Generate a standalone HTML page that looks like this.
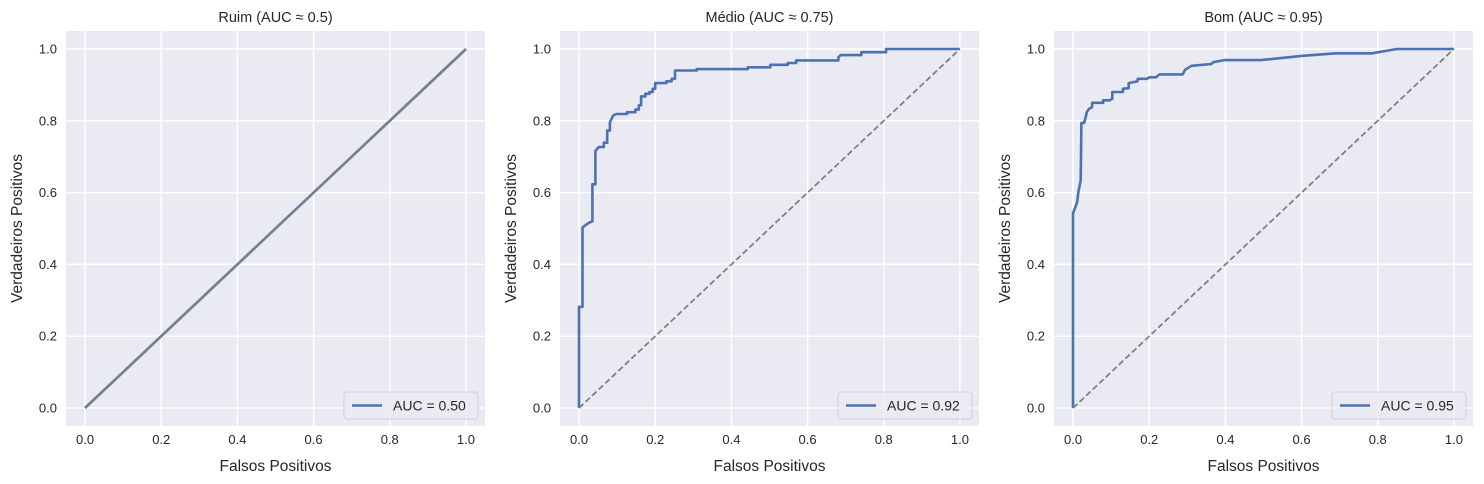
<!DOCTYPE html>
<html><head><meta charset="utf-8">
<style>
html,body{margin:0;padding:0;background:#fff;}
svg{display:block;font-family:"Liberation Sans","DejaVu Sans",sans-serif;}
</style></head>
<body>
<svg id="chart" width="1484" height="484" viewBox="0 0 1484 484" xmlns="http://www.w3.org/2000/svg"></svg>
<script>
const panelTitles = ["Ruim (AUC \u2248 0.5)", "Médio (AUC \u2248 0.75)", "Bom (AUC \u2248 0.95)"];
const legendLabels = ["AUC = 0.50", "AUC = 0.92", "AUC = 0.95"];
const tickValues = [0, 0.2, 0.4, 0.6, 0.8, 1.0];
const tickLabels = ["0.0", "0.2", "0.4", "0.6", "0.8", "1.0"];
const fprRuim = [0, 1];
const tprRuim = [0, 1];
const fprMedio = [0,0,0.009,0.009,0.018,0.026,0.035,0.035,0.043,0.043,0.052,0.065,0.065,0.074,0.074,0.081,0.081,0.09,0.098,0.126,0.126,0.148,0.148,0.157,0.157,0.163,0.163,0.174,0.174,0.185,0.185,0.193,0.193,0.2,0.2,0.229,0.229,0.243,0.243,0.252,0.252,0.309,0.309,0.443,0.443,0.502,0.502,0.548,0.548,0.57,0.57,0.681,0.681,0.687,0.741,0.741,0.806,0.806,1];
const tprMedio = [0,0.282,0.282,0.503,0.51,0.516,0.52,0.623,0.623,0.716,0.727,0.727,0.739,0.739,0.773,0.773,0.796,0.815,0.819,0.819,0.824,0.824,0.831,0.831,0.843,0.843,0.868,0.868,0.875,0.875,0.88,0.88,0.889,0.889,0.905,0.905,0.91,0.91,0.917,0.917,0.94,0.94,0.944,0.944,0.949,0.949,0.956,0.956,0.961,0.961,0.968,0.968,0.977,0.983,0.983,0.991,0.991,1,1];
const fprBom = [0,0,0.011,0.014,0.02,0.022,0.029,0.033,0.036,0.042,0.05,0.05,0.079,0.079,0.096,0.103,0.103,0.131,0.131,0.146,0.146,0.169,0.17,0.194,0.201,0.218,0.227,0.288,0.294,0.311,0.363,0.368,0.398,0.494,0.603,0.69,0.785,0.85,1];
const tprBom = [0,0.542,0.574,0.602,0.634,0.794,0.794,0.809,0.824,0.833,0.838,0.85,0.85,0.857,0.857,0.861,0.88,0.88,0.889,0.891,0.905,0.91,0.917,0.917,0.921,0.921,0.929,0.929,0.942,0.953,0.958,0.963,0.969,0.969,0.981,0.988,0.988,1,1];

const NS = "http://www.w3.org/2000/svg";
const svg = document.getElementById("chart");
function mk(tag, attrs, parent){const e=document.createElementNS(NS,tag);for(const k in attrs)e.setAttribute(k,attrs[k]);(parent||svg).appendChild(e);return e;}

const panelOffsets = [0, 494, 988];
const seriesFpr = [fprRuim, fprMedio, fprBom];
const seriesTpr = [tprRuim, tprMedio, tprBom];
const L=66, R=485, T=31, B=426;

panelOffsets.forEach((off, i) => {
  const g = mk("g", {transform:"translate("+off+",0)"});
  
  
  const sx = v => L + (v + 0.05) / 1.1 * (R - L);
  const sy = v => B - (v + 0.05) / 1.1 * (B - T);
  const bg = mk("rect", {x:L, y:T, width:R-L, height:B-T, fill:"#eaeaf2"}, g);
  
  
  tickValues.forEach((t, j) => {
    const gx = mk("line", {x1:sx(t), x2:sx(t), y1:T, y2:B, stroke:"#fff", "stroke-width":1.5}, g);
    
    
    const gy = mk("line", {x1:L, x2:R, y1:sy(t), y2:sy(t), stroke:"#fff", "stroke-width":1.5}, g);
    
    
    const xt = mk("text", {x:sx(t), y:B+18, "text-anchor":"middle", "font-size":13, fill:"#262626"}, g);
    xt.textContent = tickLabels[j];
    
    
    const yt = mk("text", {x:L-9, y:sy(t)+4.5, "text-anchor":"end", "font-size":13, fill:"#262626"}, g);
    yt.textContent = tickLabels[j];
    
    
  });
  const title = mk("text", {x:(L+R)/2, y:22, "text-anchor":"middle", "font-size":14.5, fill:"#262626"}, g);
  title.textContent = panelTitles[i];
  
  
  const xl = mk("text", {x:(L+R)/2, y:471, "text-anchor":"middle", "font-size":15.5, fill:"#262626"}, g);
  xl.textContent = "Falsos Positivos";
  
  
  const yl = mk("text", {x:0, y:0, "text-anchor":"middle", "font-size":15.5, fill:"#262626", transform:"translate(22,"+((T+B)/2)+") rotate(-90)"}, g);
  yl.textContent = "Verdadeiros Positivos";
  
  
  const fp = seriesFpr[i], tp = seriesTpr[i];
  const pts = fp.map((v,k)=>sx(v).toFixed(1)+","+sy(tp[k]).toFixed(1)).join(" ");
  const line = mk("polyline", {points:pts, fill:"none", stroke:"#4c72b0", "stroke-width":2.6, "stroke-linejoin":"round"}, g);
  
  
  const diag = mk("line", {x1:sx(0), y1:sy(0), x2:sx(1), y2:sy(1), stroke:"#808080", "stroke-width":1.8, "stroke-dasharray": i===0 ? "none" : "6,3"}, g);
  
  
  const lg = mk("g", {}, g);
  
  
  mk("rect", {x:R-141, y:392, width:134, height:27, rx:3, fill:"#eaeaf2", stroke:"#d0d0d8", "stroke-width":1, "fill-opacity":0.8}, lg);
  mk("line", {x1:R-133, x2:R-103, y1:405.5, y2:405.5, stroke:"#4c72b0", "stroke-width":2.6}, lg);
  const lt = mk("text", {x:R-92, y:410.5, "font-size":14, fill:"#262626"}, lg);
  lt.textContent = legendLabels[i];
  
  
});
</script>
</body></html>
